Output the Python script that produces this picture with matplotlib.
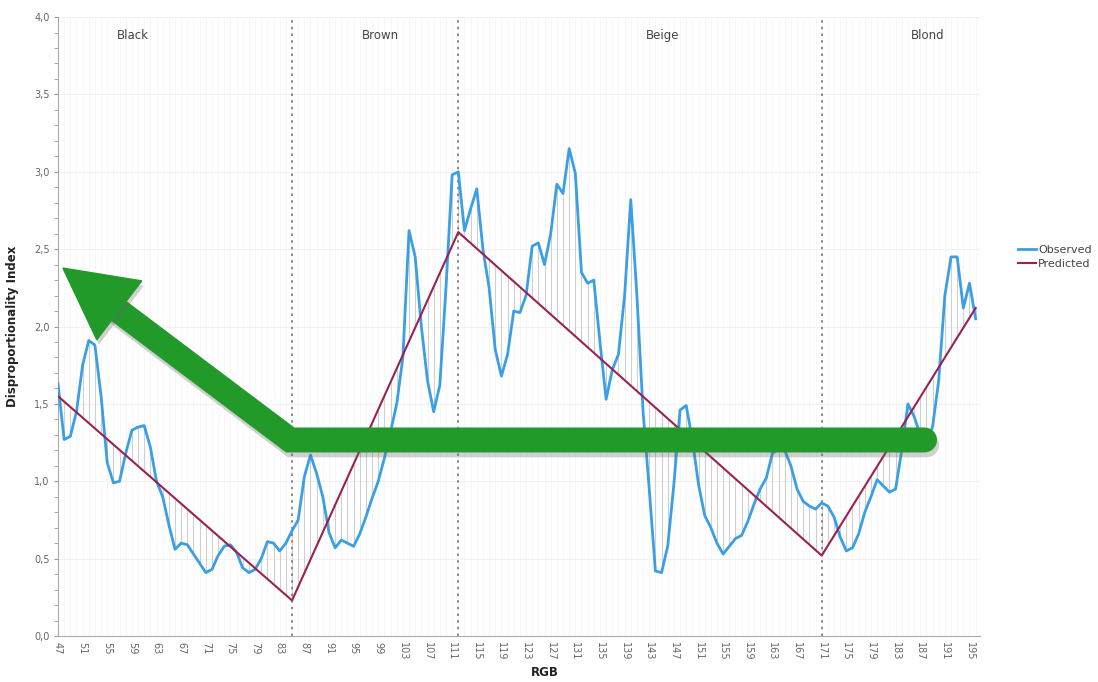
import numpy as np
import matplotlib
matplotlib.use('Agg')
import matplotlib.pyplot as plt
import matplotlib.patheffects as pe
from matplotlib.patches import Polygon

# observed disproportionality index, one value per RGB step (47..196)
rgb = np.arange(47, 197)
observed = [1.63, 1.27, 1.29, 1.45, 1.75, 1.91, 1.88, 1.55, 1.12, 0.99,
            1.00, 1.18, 1.33, 1.35, 1.36, 1.22, 1.00, 0.90, 0.72, 0.56,
            0.60, 0.59, 0.53, 0.47, 0.41, 0.43, 0.52, 0.58, 0.59, 0.54,
            0.44, 0.41, 0.43, 0.50, 0.61, 0.60, 0.55, 0.60, 0.68, 0.75,
            1.03, 1.17, 1.05, 0.90, 0.67, 0.57, 0.62, 0.60, 0.58, 0.66,
            0.77, 0.89, 1.00, 1.15, 1.32, 1.50, 1.80, 2.62, 2.45, 2.00,
            1.65, 1.45, 1.62, 2.25, 2.98, 3.00, 2.62, 2.76, 2.89, 2.50,
            2.25, 1.85, 1.68, 1.82, 2.10, 2.09, 2.20, 2.52, 2.54, 2.40,
            2.60, 2.92, 2.86, 3.15, 2.99, 2.35, 2.28, 2.30, 1.90, 1.53,
            1.72, 1.82, 2.20, 2.82, 2.20, 1.45, 0.95, 0.42, 0.41, 0.58,
            0.98, 1.46, 1.49, 1.27, 0.98, 0.78, 0.70, 0.60, 0.53, 0.58,
            0.63, 0.65, 0.74, 0.85, 0.95, 1.02, 1.18, 1.21, 1.20, 1.10,
            0.95, 0.87, 0.84, 0.82, 0.86, 0.84, 0.77, 0.64, 0.55, 0.57,
            0.66, 0.80, 0.90, 1.01, 0.97, 0.93, 0.95, 1.20, 1.50, 1.42,
            1.30, 1.26, 1.35, 1.65, 2.20, 2.45, 2.45, 2.12, 2.28, 2.05]

# predicted model: piecewise linear knots
pred_x = [47, 85, 112, 171, 196]
pred_y = [1.55, 0.23, 2.61, 0.52, 2.12]

# category boundaries and names
bounds = [85, 112, 171]
cat_names = ['Black', 'Brown', 'Beige', 'Blond']
cat_pos = [59.2, 99.3, 145.2, 188.2]

xticks = np.arange(47, 197, 4)
yticks = np.arange(0, 4.01, 0.5)

blue = '#3a9fe4'
maroon = '#9a2150'
green = '#229a2a'
txt = '#666666'

fig = plt.figure(figsize=(10.98, 6.82), dpi=100)
ax = fig.add_axes([0.0528, 0.0674, 0.8397, 0.9076])

ax.set_xlim(47, 196.7)
ax.set_ylim(0, 4.0)

# faint background grid
ax.vlines(rgb, 0, 4, color='#f6f6f6', lw=0.6, zorder=0)
ax.hlines(yticks[1:], 47, 196.7, color='#f1f1f1', lw=0.8, zorder=0)

# residual hatch between observed and predicted
pred_at = np.interp(rgb, pred_x, pred_y)
ax.vlines(rgb, pred_at, observed, color='#cfcfcf', lw=0.8, zorder=1)

for b in bounds:
    ax.axvline(b, color='#7a7a7a', ls=(0, (1.5, 2.5)), lw=1.2, zorder=1)

ax.plot(rgb, observed, color=blue, lw=2.0, zorder=3, label='Observed')
ax.plot(pred_x, pred_y, color=maroon, lw=1.5, zorder=3, label='Predicted')

for name, xp in zip(cat_names, cat_pos):
    ax.text(xp, 3.88, name, ha='center', va='center', fontsize=8.5, color='#444444')

# green annotation arrow (drawn over the chart)
shadow = [pe.SimpleLineShadow(offset=(1.5, -3.5), shadow_color='#666666', alpha=0.3), pe.Normal()]
ax.plot([187.7, 84.7, 56.9], [1.267, 1.267, 2.10], color=green, lw=18,
        solid_capstyle='round', solid_joinstyle='miter', zorder=5, path_effects=shadow)
head = Polygon([[47.8, 2.378], [60.6, 2.295], [53.3, 1.915]], closed=True,
               facecolor=green, edgecolor=green, lw=1, zorder=6,
               path_effects=[pe.SimplePatchShadow(offset=(1.5, -3.5), shadow_rgbFace='#666666', alpha=0.3), pe.Normal()])
ax.add_patch(head)

ax.set_xticks(xticks)
ax.set_xticklabels([str(v) for v in xticks], rotation=270, fontsize=7, color=txt)
ax.set_yticks(yticks)
ax.set_yticklabels([('%.1f' % v).replace('.', ',') for v in yticks], fontsize=7, color=txt)
ax.set_yticks(np.arange(0, 4.01, 0.1), minor=True)
ax.tick_params(axis='x', length=0, pad=4)
ax.tick_params(axis='y', which='both', length=3, color='#999999', pad=3)

for s in ['top', 'right']:
    ax.spines[s].set_visible(False)
for s in ['left', 'bottom']:
    ax.spines[s].set_color('#aaaaaa')

ax.set_ylabel('Disproportionality Index', fontsize=8.5, fontweight='bold', color='#222222')
ax.set_xlabel('RGB', fontsize=8.5, fontweight='bold', color='#222222')
ax.xaxis.set_label_coords(0.528, -0.048)
ax.yaxis.set_label_coords(-0.042, 0.5)

fig.legend(loc='upper left', bbox_to_anchor=(0.918, 0.655), frameon=False,
           fontsize=8, handlelength=1.6, handletextpad=0.2, labelspacing=0.3,
           labelcolor='#444444')

fig.savefig('out.png', dpi=100)
